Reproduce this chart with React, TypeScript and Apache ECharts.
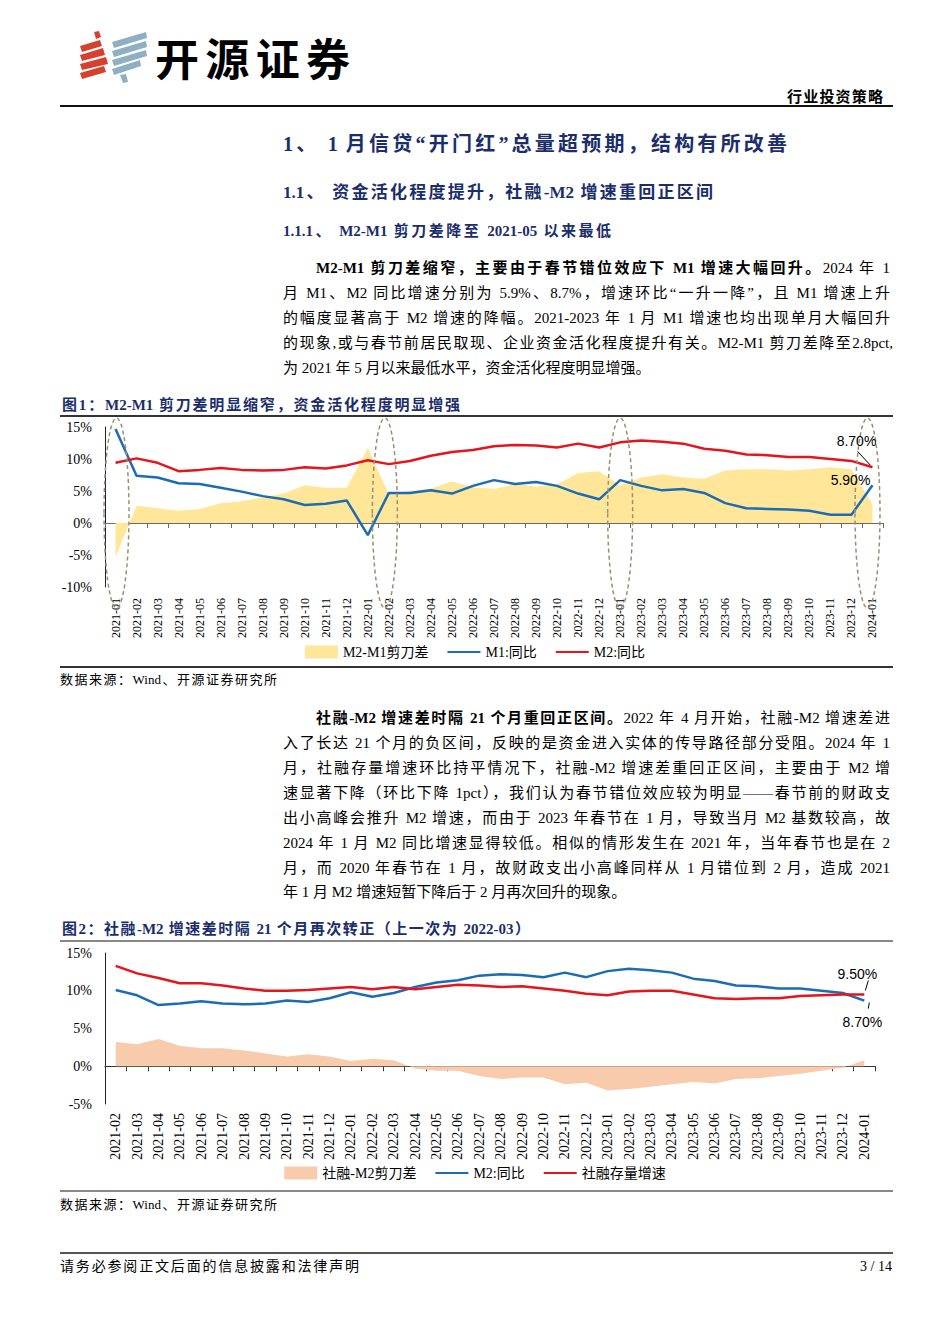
import React, { useEffect, useRef } from "react";
import * as echarts from "echarts";

// ---------- DATA ----------
const MONTHS_1 = [
  "2021-01", "2021-02", "2021-03", "2021-04", "2021-05", "2021-06", "2021-07", "2021-08", "2021-09", "2021-10", "2021-11", "2021-12",
  "2022-01", "2022-02", "2022-03", "2022-04", "2022-05", "2022-06", "2022-07", "2022-08", "2022-09", "2022-10", "2022-11", "2022-12",
  "2023-01", "2023-02", "2023-03", "2023-04", "2023-05", "2023-06", "2023-07", "2023-08", "2023-09", "2023-10", "2023-11", "2023-12",
  "2024-01",
];
const M1_YOY = [
  14.7, 7.4, 7.1, 6.2, 6.1, 5.5, 4.9, 4.2, 3.7, 2.8, 3.0, 3.5,
  -1.9, 4.7, 4.7, 5.1, 4.6, 5.8, 6.7, 6.1, 6.4, 5.8, 4.6, 3.7,
  6.7, 5.8, 5.1, 5.3, 4.7, 3.1, 2.3, 2.2, 2.1, 1.9, 1.3, 1.3,
  5.9,
];
const M2_YOY_1 = [
  9.4, 10.1, 9.4, 8.1, 8.3, 8.6, 8.3, 8.2, 8.3, 8.7, 8.5, 9.0,
  9.8, 9.2, 9.7, 10.5, 11.1, 11.4, 12.0, 12.2, 12.1, 11.8, 12.4, 11.8,
  12.6, 12.9, 12.7, 12.4, 11.6, 11.3, 10.7, 10.6, 10.3, 10.3, 10.0, 9.7,
  8.7,
];
const M2_M1_GAP = [
  -5.3, 2.7, 2.3, 1.9, 2.2, 3.1, 3.4, 4.0, 4.6, 5.9, 5.5, 5.5,
  11.7, 4.5, 5.0, 5.4, 6.5, 5.6, 5.3, 6.1, 5.7, 6.0, 7.8, 8.1,
  5.9, 7.1, 7.6, 7.1, 6.9, 8.2, 8.4, 8.4, 8.2, 8.4, 8.7, 8.4,
  2.8,
];
const CIRCLED_1 = ["2021-01", "2022-02", "2023-01", "2024-01"];

const MONTHS_2 = [
  "2021-02", "2021-03", "2021-04", "2021-05", "2021-06", "2021-07", "2021-08", "2021-09", "2021-10", "2021-11", "2021-12",
  "2022-01", "2022-02", "2022-03", "2022-04", "2022-05", "2022-06", "2022-07", "2022-08", "2022-09", "2022-10", "2022-11", "2022-12",
  "2023-01", "2023-02", "2023-03", "2023-04", "2023-05", "2023-06", "2023-07", "2023-08", "2023-09", "2023-10", "2023-11", "2023-12",
  "2024-01",
];
const M2_YOY_2 = [
  10.1, 9.4, 8.1, 8.3, 8.6, 8.3, 8.2, 8.3, 8.7, 8.5, 9.0,
  9.8, 9.2, 9.7, 10.5, 11.1, 11.4, 12.0, 12.2, 12.1, 11.8, 12.4, 11.8,
  12.6, 12.9, 12.7, 12.4, 11.6, 11.3, 10.7, 10.6, 10.3, 10.3, 10.0, 9.7,
  8.7,
];
const TSF_YOY = [
  13.3, 12.3, 11.7, 11.0, 11.0, 10.7, 10.3, 10.0, 10.0, 10.1, 10.3,
  10.5, 10.2, 10.5, 10.2, 10.5, 10.8, 10.7, 10.5, 10.6, 10.3, 10.0, 9.6,
  9.4, 9.9, 10.0, 10.0, 9.5, 9.0, 8.9, 9.0, 9.0, 9.3, 9.4, 9.5, 9.5,
];
const TSF_M2_GAP = [
  3.2, 2.9, 3.6, 2.7, 2.4, 2.4, 2.1, 1.7, 1.3, 1.6, 1.3,
  0.7, 1.0, 0.8, -0.3, -0.6, -0.6, -1.3, -1.7, -1.5, -1.5, -2.4, -2.2,
  -3.2, -3.0, -2.7, -2.4, -2.1, -2.3, -1.7, -1.6, -1.3, -1.0, -0.6, -0.2,
  0.8,
];

const Y_RANGE_1 = [-10, 15];
const Y_RANGE_2 = [-5, 15];
const Y_STEP = 5;

// ---------- STYLE ----------
const SERIF = '"Liberation Serif", "Times New Roman", "Noto Sans CJK SC", serif';
const SANS = '"Liberation Sans", Arial, "Noto Sans CJK SC", sans-serif';
const CJK = '"Noto Sans CJK SC", sans-serif';
const NAVY = "#1B2D6B";
const BLUE = "#1A6DB5";
const RED = "#E6141C";
const GOLD = "#FFE699";
const SALMON = "#F8CBAD";

type LineProps = {
  x: number;
  cy: number;
  w: number;
  size: number;
  bold?: boolean;
  color?: string;
  justify?: boolean;
  align?: "left" | "right";
  family?: string;
  children: React.ReactNode;
};

function TextLine({ x, cy, w, size, bold, color = "#000", justify = true, align = "left", family = SERIF, children }: LineProps) {
  const h = Math.round(size * 1.5);
  return (
    <div
      style={{
        position: "absolute",
        left: x,
        top: cy - h / 2,
        width: w,
        height: h,
        lineHeight: h + "px",
        fontSize: size,
        fontFamily: family,
        fontWeight: bold ? 700 : 400,
        color,
        textAlign: justify ? "justify" : align,
        textAlignLast: justify ? "justify" : align,
        overflow: "visible",
      } as React.CSSProperties}
    >
      {children}
    </div>
  );
}

function Rule({ y, color = "#000", h = 2, x1 = 60, x2 = 893 }: { y: number; color?: string; h?: number; x1?: number; x2?: number }) {
  return <div style={{ position: "absolute", left: x1, top: y - h / 2, width: x2 - x1, height: h, background: color }} />;
}

function baseAxisLabel(size: number) {
  return { fontFamily: SERIF, fontSize: size, color: "#000" };
}

function lineLegendItem(name: string) {
  return { name, itemStyle: { opacity: 0 } };
}

function Chart1() {
  const ref = useRef<HTMLDivElement>(null);
  useEffect(() => {
    const chart = echarts.init(ref.current!, undefined, { renderer: "svg" });
    chart.setOption({
      animation: false,
      grid: { left: 105, top: 11, width: 778, height: 160, containLabel: false, outerBoundsMode: "none" },
      legend: {
        top: 224,
        left: "center",
        itemWidth: 33,
        itemHeight: 13,
        itemGap: 18,
        textStyle: { fontFamily: SERIF, fontSize: 14, color: "#000" },
        data: [{ name: "M2-M1剪刀差", icon: "rect" }, lineLegendItem("M1:同比"), lineLegendItem("M2:同比")],
      },
      xAxis: {
        type: "category",
        data: MONTHS_1,
        boundaryGap: true,
        axisLine: { onZero: true, lineStyle: { color: "#6b6b6b", width: 1.2 } },
        axisTick: { show: true, length: 5, lineStyle: { color: "#6b6b6b" } },
        axisLabel: { ...baseAxisLabel(12), rotate: 90, margin: 11, interval: 0 },
      },
      yAxis: {
        type: "value",
        min: Y_RANGE_1[0],
        max: Y_RANGE_1[1],
        interval: Y_STEP,
        axisLine: { show: true, lineStyle: { color: "#222", width: 1 } },
        axisTick: { show: false },
        splitLine: { show: false },
        axisLabel: { ...baseAxisLabel(14), formatter: "{value}%", margin: 13 },
      },
      series: [
        {
          name: "M2-M1剪刀差",
          type: "line",
          data: M2_M1_GAP,
          symbol: "none",
          lineStyle: { width: 0, color: GOLD },
          itemStyle: { color: GOLD },
          areaStyle: { color: GOLD, opacity: 1 },
          z: 1,
        },
        {
          name: "M1:同比",
          type: "line",
          data: M1_YOY,
          symbol: "none",
          lineStyle: { width: 2.5, color: BLUE },
          itemStyle: { color: BLUE },
          z: 3,
        },
        {
          name: "M2:同比",
          type: "line",
          data: M2_YOY_1,
          symbol: "none",
          lineStyle: { width: 2.5, color: RED },
          itemStyle: { color: RED },
          z: 4,
        },
      ],
    });

    const px = (i: number, v: number) => chart.convertToPixel({ gridIndex: 0 }, [i, v]) as number[];
    const topY = px(0, Y_RANGE_1[1])[1] - 9;
    const botY = px(0, Y_RANGE_1[0])[1] + 21;
    const ellDx = [1, -4, 0, -5];
    const ellipses = CIRCLED_1.map((m, k) => {
      const cx = px(MONTHS_1.indexOf(m), 0)[0] + ellDx[k];
      return {
        type: "ellipse",
        shape: { cx, cy: (topY + botY) / 2, rx: 12.5, ry: (botY - topY) / 2 },
        style: { fill: "none", stroke: "#9A9070", lineWidth: 1.5, lineDash: [4, 3] },
        z: 100,
        silent: true,
      };
    });
    const last = MONTHS_1.length - 1;
    const pM2 = px(last, M2_YOY_1[last]);
    const pM1 = px(last, M1_YOY[last]);
    const txt = (x: number, y: number, text: string) => ({
      type: "text",
      x,
      y,
      z: 101,
      style: { text, fill: "#000", fontFamily: SANS, fontSize: 14, align: "center", verticalAlign: "middle" },
    });
    chart.setOption({
      graphic: [
        ...ellipses,
        txt(pM2[0] - 16, pM2[1] - 26, M2_YOY_1[last].toFixed(2) + "%"),
        { type: "line", z: 101, shape: { x1: pM2[0] - 15, y1: pM2[1] - 16, x2: pM2[0] - 2, y2: pM2[1] - 2 }, style: { stroke: "#000", lineWidth: 1 } },
        txt(pM1[0] - 22, pM1[1] - 5, M1_YOY[last].toFixed(2) + "%"),
      ],
    });
    return () => chart.dispose();
  }, []);
  return <div ref={ref} style={{ position: "absolute", left: 0, top: 416, width: 950, height: 250 }} />;
}

function Chart2() {
  const ref = useRef<HTMLDivElement>(null);
  useEffect(() => {
    const chart = echarts.init(ref.current!, undefined, { renderer: "svg" });
    chart.setOption({
      animation: false,
      grid: { left: 105, top: 12, width: 770, height: 151, containLabel: false, outerBoundsMode: "none" },
      legend: {
        top: 220,
        left: "center",
        itemWidth: 33,
        itemHeight: 13,
        itemGap: 18,
        textStyle: { fontFamily: SERIF, fontSize: 14, color: "#000" },
        data: [{ name: "社融-M2剪刀差", icon: "rect" }, lineLegendItem("M2:同比"), lineLegendItem("社融存量增速")],
      },
      xAxis: {
        type: "category",
        data: MONTHS_2,
        boundaryGap: true,
        axisLine: { onZero: true, lineStyle: { color: "#333", width: 1.2 } },
        axisTick: { show: true, length: 5, lineStyle: { color: "#333" } },
        axisLabel: { ...baseAxisLabel(14), rotate: 90, margin: 9, interval: 0 },
      },
      yAxis: {
        type: "value",
        min: Y_RANGE_2[0],
        max: Y_RANGE_2[1],
        interval: Y_STEP,
        axisLine: { show: true, lineStyle: { color: "#222", width: 1 } },
        axisTick: { show: false },
        splitLine: { show: false },
        axisLabel: { ...baseAxisLabel(14), formatter: "{value}%", margin: 13 },
      },
      series: [
        {
          name: "社融-M2剪刀差",
          type: "line",
          data: TSF_M2_GAP,
          symbol: "none",
          lineStyle: { width: 0, color: SALMON },
          itemStyle: { color: SALMON },
          areaStyle: { color: SALMON, opacity: 1 },
          z: 1,
        },
        {
          name: "M2:同比",
          type: "line",
          data: M2_YOY_2,
          symbol: "none",
          lineStyle: { width: 2.5, color: BLUE },
          itemStyle: { color: BLUE },
          z: 3,
        },
        {
          name: "社融存量增速",
          type: "line",
          data: TSF_YOY,
          symbol: "none",
          lineStyle: { width: 2.5, color: RED },
          itemStyle: { color: RED },
          z: 4,
        },
      ],
    });
    const px = (i: number, v: number) => chart.convertToPixel({ gridIndex: 0 }, [i, v]) as number[];
    const last = MONTHS_2.length - 1;
    const pT = px(last, TSF_YOY[last]);
    const pM = px(last, M2_YOY_2[last]);
    const txt = (x: number, y: number, text: string) => ({
      type: "text",
      x,
      y,
      z: 101,
      style: { text, fill: "#000", fontFamily: SANS, fontSize: 14, align: "center", verticalAlign: "middle" },
    });
    chart.setOption({
      graphic: [
        txt(pT[0] - 7, pT[1] - 21, TSF_YOY[last].toFixed(2) + "%"),
        { type: "line", z: 101, shape: { x1: pT[0] + 4, y1: pT[1] - 14, x2: pT[0] + 1, y2: pT[1] - 4 }, style: { stroke: "#000", lineWidth: 1 } },
        txt(pM[0] - 2, pM[1] + 21, M2_YOY_2[last].toFixed(2) + "%"),
        { type: "line", z: 101, shape: { x1: pM[0] + 5, y1: pM[1] + 2, x2: pM[0] + 4, y2: pM[1] + 8 }, style: { stroke: "#000", lineWidth: 1 } },
      ],
    });
    return () => chart.dispose();
  }, []);
  return <div ref={ref} style={{ position: "absolute", left: 0, top: 941, width: 950, height: 250 }} />;
}

function Logo() {
  const red = "#D6402F";
  const blue = "#8FB0C3";
  return (
    <svg style={{ position: "absolute", left: 0, top: 0 }} width={160} height={100}>
      <polygon points="94,32 99,31 101,37 96,39" fill={red} />
      <polygon points="80,46 100,40 102,46 82,52" fill={red} />
      <polygon points="80,55 103,48 105,55 82,61" fill={red} />
      <polygon points="80,64 106,57 108,64 82,70" fill={red} />
      <polygon points="80,73 104,66 106,72 82,79" fill={red} />
      <polygon points="112,42 146,32 147,38 114,48" fill={blue} />
      <polygon points="112,51 146,41 147,47 114,57" fill={blue} />
      <polygon points="112,60 146,50 147,56 114,66" fill={blue} />
      <polygon points="112,69 140,60 141,66 114,75" fill={blue} />
      <polygon points="120,75 126,74 128,82 123,83" fill={blue} />
    </svg>
  );
}

export default function App() {
  const P = { size: 15 };
  return (
    <div style={{ position: "absolute", left: 0, top: 0, width: 950, height: 1344, background: "#fff", overflow: "hidden" }}>
      <Logo />
      <TextLine x={155} cy={57} w={195} size={44} bold family={CJK}>开源证券</TextLine>
      <TextLine x={787} cy={97} w={96} size={15} bold>行业投资策略</TextLine>
      <Rule y={106} h={2} color="#111" />

      <TextLine x={283} cy={144} w={504} size={20} bold color={NAVY}>1、 1 月信贷“开门红”总量超预期，结构有所改善</TextLine>
      <TextLine x={283} cy={193} w={430} size={17} bold color={NAVY}>1.1、 资金活化程度提升，社融-M2 增速重回正区间</TextLine>
      <TextLine x={283} cy={231} w={328} size={15} bold color={NAVY}>1.1.1、 M2-M1 剪刀差降至 2021-05 以来最低</TextLine>

      <TextLine x={316} cy={268} w={574} size={P.size}><b>M2-M1 剪刀差缩窄，主要由于春节错位效应下 M1 增速大幅回升。</b>2024 年 1</TextLine>
      <TextLine x={283} cy={293} w={607} size={P.size}>月 M1、M2 同比增速分别为 5.9%、8.7%，增速环比“一升一降”，且 M1 增速上升</TextLine>
      <TextLine x={283} cy={318} w={607} size={P.size}>的幅度显著高于 M2 增速的降幅。2021-2023 年 1 月 M1 增速也均出现单月大幅回升</TextLine>
      <TextLine x={283} cy={343} w={610} size={P.size}>的现象,或与春节前居民取现、企业资金活化程度提升有关。M2-M1 剪刀差降至2.8pct,</TextLine>
      <TextLine x={283} cy={368} w={600} size={P.size} justify={false}>为 2021 年 5 月以来最低水平，资金活化程度明显增强。</TextLine>

      <TextLine x={62} cy={405} w={398} size={15} bold color={NAVY}>图1：M2-M1 剪刀差明显缩窄，资金活化程度明显增强</TextLine>
      <Rule y={416} h={2} color="#333" />
      <Chart1 />
      <Rule y={667} h={2} color="#333" />
      <TextLine x={60} cy={680} w={217} size={13}>数据来源：Wind、开源证券研究所</TextLine>

      <TextLine x={316} cy={718} w={574} size={P.size}><b>社融-M2 增速差时隔 21 个月重回正区间。</b>2022 年 4 月开始，社融-M2 增速差进</TextLine>
      <TextLine x={283} cy={743} w={607} size={P.size}>入了长达 21 个月的负区间，反映的是资金进入实体的传导路径部分受阻。2024 年 1</TextLine>
      <TextLine x={283} cy={768} w={607} size={P.size}>月，社融存量增速环比持平情况下，社融-M2 增速差重回正区间，主要由于 M2 增</TextLine>
      <TextLine x={283} cy={793} w={607} size={P.size}>速显著下降（环比下降 1pct），我们认为春节错位效应较为明显——春节前的财政支</TextLine>
      <TextLine x={283} cy={818} w={607} size={P.size}>出小高峰会推升 M2 增速，而由于 2023 年春节在 1 月，导致当月 M2 基数较高，故</TextLine>
      <TextLine x={283} cy={843} w={607} size={P.size}>2024 年 1 月 M2 同比增速显得较低。相似的情形发生在 2021 年，当年春节也是在 2</TextLine>
      <TextLine x={283} cy={868} w={607} size={P.size}>月，而 2020 年春节在 1 月，故财政支出小高峰同样从 1 月错位到 2 月，造成 2021</TextLine>
      <TextLine x={283} cy={892} w={600} size={P.size} justify={false}>年 1 月 M2 增速短暂下降后于 2 月再次回升的现象。</TextLine>

      <TextLine x={62} cy={929} w={468} size={15} bold color={NAVY}>图2：社融-M2 增速差时隔 21 个月再次转正（上一次为 2022-03）</TextLine>
      <Rule y={941} h={2} color="#888" />
      <Chart2 />
      <Rule y={1191} h={2} color="#888" />
      <TextLine x={60} cy={1205} w={217} size={13}>数据来源：Wind、开源证券研究所</TextLine>

      <Rule y={1253} h={2} color="#555" />
      <TextLine x={60} cy={1266} w={299} size={14}>请务必参阅正文后面的信息披露和法律声明</TextLine>
      <TextLine x={800} cy={1266} w={92} size={14} justify={false} align="right">3 / 14</TextLine>
    </div>
  );
}
